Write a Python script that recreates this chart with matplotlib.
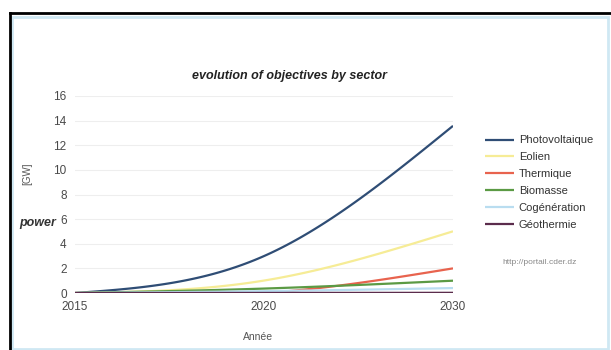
import matplotlib
matplotlib.use('Agg')
import matplotlib.pyplot as plt
import numpy as np
from matplotlib.patches import Rectangle
from matplotlib.lines import Line2D

years = ['2015', '2020', '2030']
sectors = ['Photovoltaique', 'Eolien', 'Thermique', 'Biomasse', 'Cogénération', 'Géothermie']
photovoltaique = [0, 3.0, 13.575]
eolien = [0, 1.01, 5.01]
thermique = [0, 0, 2.0]
biomasse = [0, 0.36, 1.0]
cogeneration = [0, 0.15, 0.4]
geothermie = [0, 0.005, 0.015]
colors = ['#2f4d75', '#f6ec96', '#e8634e', '#5b9a44', '#b9ddf0', '#5b2c4c']


def smooth(y, n=60):
    # natural cubic spline through the category points (like the "smooth line" option)
    y = np.asarray(y, dtype=float)
    m1 = 1.5 * (y[0] - 2 * y[1] + y[2])
    m = [0.0, m1, 0.0]
    xs, ys = [], []
    for i in range(2):
        t = np.linspace(0, 1, n)
        s = (m[i] * (1 - t) ** 3 / 6 + m[i + 1] * t ** 3 / 6
             + (y[i] - m[i] / 6) * (1 - t) + (y[i + 1] - m[i + 1] / 6) * t)
        xs.append(i + t)
        ys.append(s)
    return np.concatenate(xs), np.concatenate(ys)


fig = plt.figure(figsize=(6.11, 3.5), dpi=100)
fig.patch.set_facecolor('white')

# frame of the screenshot
fig.patches.append(Rectangle((12 / 611, 1 / 350), 596 / 611, 332 / 350, transform=fig.transFigure,
                             fill=False, edgecolor='#cfe8f3', linewidth=2))
fig.add_artist(Line2D([10 / 611, 10 / 611], [0, 1 - 13 / 350], transform=fig.transFigure, color='black', lw=2))
fig.add_artist(Line2D([10 / 611, 1], [1 - 13 / 350, 1 - 13 / 350], transform=fig.transFigure, color='black', lw=2))

ax = fig.add_axes([75 / 611, 1 - 293 / 350, 378 / 611, 197 / 350])

series = [photovoltaique, eolien, thermique, biomasse, cogeneration, geothermie]
for name, vals, c in zip(sectors, series, colors):
    sx, sy = smooth(vals)
    ax.plot(sx, sy, color=c, lw=1.6, label=name, solid_capstyle='butt')

ax.set_xlim(0, 2)
ax.set_ylim(0, 16)
ax.set_xticks(range(len(years)))
ax.set_xticklabels(years)
ax.set_yticks(np.arange(0, 17, 2))
ax.tick_params(length=0, labelsize=8.5, labelcolor='#4a4a4a', pad=6)
for s in ax.spines.values():
    s.set_visible(False)
ax.grid(axis='y', color='#eeeeee', lw=0.8)
ax.set_axisbelow(True)
for lab in ax.get_xticklabels() + ax.get_yticklabels():
    lab.set_family('Liberation Sans')

fig.text(290 / 611, 1 - 76 / 350, 'evolution of objectives by sector', ha='center', va='center',
         family='Liberation Sans', style='italic', weight='bold', fontsize=9, color='#222222')
fig.text(258 / 611, 1 - 337 / 350, 'Année', ha='center', va='center',
         family='Liberation Sans', fontsize=7.5, color='#555555')
fig.text(27 / 611, 1 - 174 / 350, '[GW]', ha='center', va='center', rotation=90,
         family='Liberation Sans', fontsize=7, color='#555555')
fig.text(38 / 611, 1 - 223 / 350, 'power', ha='center', va='center',
         family='Liberation Sans', style='italic', weight='bold', fontsize=9, color='#333333')

leg = fig.legend(loc='upper left', bbox_to_anchor=(481 / 611, 1 - 131 / 350), frameon=False,
                 prop={'family': 'Liberation Sans', 'size': 8}, handlelength=2.6, handletextpad=0.4,
                 labelspacing=0.62, borderaxespad=0)
for t in leg.get_texts():
    t.set_color('#333333')

fig.text(540 / 611, 1 - 263 / 350, 'http://portail.cder.dz', ha='center', va='center',
         family='Liberation Sans', fontsize=6, color='#888888')

fig.savefig('out.png', dpi=100)
